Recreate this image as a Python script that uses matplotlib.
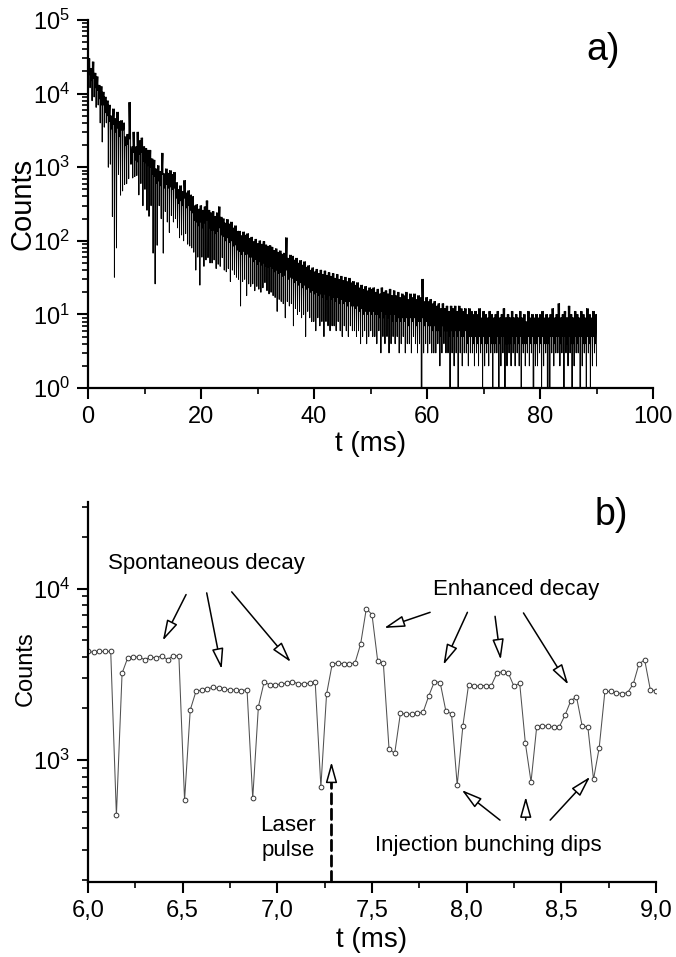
import numpy as np
import matplotlib
matplotlib.use("Agg")
import matplotlib.pyplot as plt
from matplotlib.ticker import LogLocator, MultipleLocator, FuncFormatter, NullFormatter

plt.rcParams['font.family'] = ['Liberation Sans', 'DejaVu Sans']
plt.rcParams['mathtext.default'] = 'regular'

# ---------------- Panel a: full decay, per 0.36 ms bunch period:
# plateau level (band top), lowest plateau sample (band bottom), dip value
a_first_t = 0.0        # ms, first sample
a_first_count = 6000   # first sample value
a_period = 0.36        # ms
a_plateau_on = 0.06    # ms, sample time of plateau start inside a period
a_plateau_mid = 0.18   # ms, sample time of lowest plateau sample
a_plateau_off = 0.30   # ms, sample time of plateau end inside a period
a_plateau = [
    30000, 22000, 27000, 19000, 17000, 13000, 12500, 10500, 9000, 8000,
    7000, 5000, 6200, 4600, 5600, 4200, 4300, 4000, 2600, 2800,
    7600, 1900, 3000, 1900, 3000, 2300, 2500, 1900, 1800, 1700,
    1700, 1300, 1250, 950, 1050, 880, 1550, 820, 950, 830,
    900, 800, 850, 620, 500, 560, 470, 660, 450, 480,
    420, 400, 300, 310, 270, 300, 260, 290, 350, 260,
    240, 250, 215, 240, 290, 210, 200, 175, 195, 170,
    180, 150, 160, 135, 135, 118, 132, 120, 125, 108,
    112, 98, 105, 92, 100, 90, 98, 88, 84, 86,
    82, 74, 78, 70, 73, 66, 68, 110, 58, 64,
    62, 55, 58, 50, 54, 47, 52, 44, 46, 40,
    43, 38, 41, 36, 40, 35, 39, 34, 37, 33,
    36, 31, 35, 30, 33, 29, 32, 28, 31, 27,
    28, 25, 27, 23, 25, 22, 24, 21, 23, 22,
    23, 20, 22, 19, 23, 20, 21, 19, 22, 18,
    21, 18, 20, 17, 19, 18, 20, 16, 19, 17,
    19, 16, 18, 17, 30, 15, 17, 15, 16, 14,
    15, 13, 14, 12, 14, 12, 13, 11, 13, 12,
    13, 11, 13, 12, 11, 12, 10, 12, 11, 10,
    11, 10, 12, 9, 11, 10, 9, 11, 10, 9,
    10, 11, 9, 10, 12, 9, 10, 9, 11, 9,
    10, 9, 11, 9, 10, 8, 11, 9, 10, 9,
    10, 9, 10, 11, 9, 10, 9, 10, 12, 9,
    10, 14, 9, 10, 11, 9, 13, 10, 9, 11,
    10, 9, 11, 10, 9, 12, 10, 9, 11, 10,
]
a_band_low = [
    18000, 15000, 16000, 12000, 11000, 8500, 7000, 7000, 5500, 5000,
    4200, 3300, 3800, 3000, 3400, 2600, 3200, 3200, 1960, 2050,
    2420, 1100, 1580, 1250, 1180, 1500, 1600, 1200, 1150, 1050,
    1000, 800, 750, 600, 650, 560, 800, 520, 580, 520,
    540, 500, 520, 380, 320, 350, 300, 380, 280, 300,
    260, 240, 190, 180, 160, 180, 150, 175, 190, 150,
    140, 140, 125, 135, 150, 120, 115, 100, 110, 95,
    100, 85, 88, 75, 72, 65, 72, 65, 66, 60,
    60, 52, 56, 48, 52, 47, 50, 45, 44, 45,
    42, 38, 40, 36, 37, 33, 34, 40, 30, 32,
    31, 27, 29, 25, 27, 23, 25, 22, 23, 20,
    21, 19, 20, 18, 19, 17, 19, 16, 18, 16,
    17, 15, 17, 14, 16, 14, 15, 13, 15, 13,
    13, 12, 13, 11, 12, 10, 11, 10, 11, 10,
    11, 10, 10, 9, 11, 9, 10, 9, 10, 8,
    10, 8, 9, 8, 9, 8, 9, 7, 9, 8,
    9, 7, 8, 8, 9, 7, 8, 7, 7, 6,
    7, 6, 6, 5, 7, 6, 6, 5, 6, 5,
    6, 5, 6, 5, 5, 6, 4, 5, 5, 4,
    5, 4, 5, 4, 5, 4, 4, 5, 4, 4,
    4, 5, 4, 5, 5, 4, 4, 4, 5, 4,
    5, 4, 5, 4, 4, 4, 5, 4, 5, 4,
    4, 5, 4, 5, 4, 4, 4, 5, 5, 4,
    5, 5, 4, 5, 5, 4, 5, 4, 4, 5,
    4, 5, 5, 4, 4, 5, 4, 5, 5, 4,
]
a_dip = [
    12000, 8000, 9000, 6500, 7000, 4000, 2200, 3500, 4000, 1000,
    1100, 214, 32, 80, 800, 417, 476, 583, 597, 698,
    1100, 714, 746, 771, 420, 600, 300, 500, 260, 215,
    300, 68, 26, 87, 300, 200, 68, 250, 180, 130,
    220, 180, 200, 150, 110, 120, 100, 125, 90, 85,
    80, 70, 40, 60, 25, 60, 45, 55, 59, 50,
    50, 55, 42, 48, 45, 59, 40, 38, 42, 28,
    40, 35, 32, 30, 13, 28, 30, 18, 26, 24,
    26, 21, 24, 22, 20, 23, 27, 21, 19, 20,
    18, 17, 11, 16, 15, 14, 9, 15, 13, 14,
    7, 12, 10, 11, 9, 10, 5, 11, 9, 8,
    8, 6, 9, 7, 8, 5, 8, 7, 6, 7,
    7, 6, 8, 6, 5, 7, 6, 5, 7, 6,
    6, 5, 6, 4, 5, 6, 4, 5, 6, 5,
    5, 4, 6, 3, 5, 4, 5, 3, 4, 5,
    4, 5, 3, 4, 5, 3, 4, 4, 3, 5,
    4, 3, 4, 0, 3, 4, 3, 4, 3, 3,
    3, 4, 2, 3, 4, 3, 3, 0, 3, 2,
    3, 0, 3, 2, 3, 3, 2, 3, 3, 2,
    3, 2, 3, 1, 2, 3, 2, 3, 1, 3,
    3, 0, 2, 3, 1, 2, 3, 2, 3, 2,
    3, 2, 1, 3, 2, 3, 2, 3, 0, 2,
    2, 3, 1, 2, 3, 0, 0, 3, 2, 3,
    3, 2, 3, 1, 3, 2, 3, 1, 2, 3,
    3, 0, 2, 3, 1, 3, 1, 2, 3, 2,
]

# ---------------- Panel b: zoom 6-9 ms, sampled every 0.03 ms
b_t0 = 6.0
b_dt = 0.03
b_counts = [
    4300, 4250, 4300, 4300, 4300, 476, 3210, 3950, 4000, 3980,
    3850, 3980, 3950, 4050, 3850, 4050, 4050, 583, 1960, 2510,
    2560, 2600, 2650, 2620, 2580, 2570, 2560, 2540, 2570, 597,
    2050, 2845, 2750, 2750, 2775, 2810, 2870, 2780, 2780, 2810,
    2845, 698, 2420, 3640, 3680, 3640, 3640, 3680, 4750, 7640,
    7050, 3790, 3660, 1160, 1094, 1875, 1850, 1850, 1875, 1900,
    2370, 2870, 2830, 1935, 1860, 714, 1580, 2750, 2690, 2710,
    2720, 2720, 3210, 3280, 3210, 2690, 2810, 1254, 746, 1566,
    1580, 1580, 1550, 1566, 1834, 2215, 2340, 1580, 1560, 771,
    1180, 2510, 2510, 2470, 2440, 2470, 2780, 3630, 3845, 2570,
    2530,
]

# annotation anchors (t in ms, counts)
spont_text = (6.623, 13090)
spont_tails = [(6.518, 9230), (6.627, 9440), (6.759, 9570)]
spont_tips = [(6.395, 4966), (6.706, 3390), (7.071, 3727)]
enh_text = (8.261, 9220)
enh_tails = [(7.807, 7270), (8.004, 7270), (8.150, 6890), (8.300, 7210)]
enh_tips = [(7.564, 5890), (7.877, 3590), (8.180, 3844), (8.537, 2750)]
inj_text = (8.113, 294)
inj_tails = [(8.176, 446), (8.312, 446), (8.441, 446)]
inj_tips = [(7.974, 668), (8.312, 610), (8.652, 798)]
laser_text = (7.058, 275)
laser_t = 7.286
laser_head_base = 797
laser_tip = 973

# ---------------- figure
fig = plt.figure(figsize=(6.76, 9.57), dpi=100)
axa = fig.add_axes([88 / 676, 1 - 388 / 957, 565 / 676, 368 / 957])
axb = fig.add_axes([88 / 676, 1 - 881.7 / 957, 568 / 676, 379.7 / 957])

# panel a trace
P = np.asarray(a_plateau, dtype=float)
L = np.asarray(a_band_low, dtype=float)
D = np.asarray(a_dip, dtype=float)
k = np.arange(len(P))
ta = np.column_stack([k * a_period + a_plateau_on,
                      k * a_period + a_plateau_mid,
                      k * a_period + a_plateau_off,
                      (k + 1) * a_period]).ravel()
ya = np.column_stack([P, L, P, D]).ravel()
ta = np.concatenate([[a_first_t], ta])
ya = np.concatenate([[a_first_count], ya])
axa.plot(ta, ya, color='black', lw=0.7)
axa.set_yscale('log', nonpositive='clip')
axa.set_xlim(0, 100)
axa.set_ylim(1, 1e5)
axa.xaxis.set_major_locator(MultipleLocator(20))
axa.xaxis.set_minor_locator(MultipleLocator(10))
axa.yaxis.set_major_locator(LogLocator(base=10, numticks=10))
axa.yaxis.set_minor_locator(LogLocator(base=10, subs=np.arange(2, 10), numticks=20))
axa.yaxis.set_minor_formatter(NullFormatter())
axa.set_xlabel('t (ms)', fontsize=20)
axa.set_ylabel('Counts', fontsize=21)
axa.xaxis.set_label_coords(0.5, -0.118)
axa.yaxis.set_label_coords(-0.092, 0.5)
axa.text(0.912, 0.918, 'a)', transform=axa.transAxes, fontsize=27,
         ha='center', va='center')

# panel b
tb = b_t0 + b_dt * np.arange(len(b_counts))
axb.plot(tb, b_counts, color='#505050', lw=0.75, marker='o', ms=3.4,
         mfc='white', mec='#333333', mew=0.7)
axb.set_yscale('log')
axb.set_xlim(6.0, 9.0)
axb.set_ylim(195, 32000)
axb.xaxis.set_major_locator(MultipleLocator(0.5))
axb.xaxis.set_minor_locator(MultipleLocator(0.25))
axb.xaxis.set_major_formatter(FuncFormatter(lambda v, p: f"{v:.1f}".replace('.', ',')))
axb.yaxis.set_major_locator(LogLocator(base=10, numticks=10))
axb.yaxis.set_minor_locator(LogLocator(base=10, subs=np.arange(2, 10), numticks=20))
axb.yaxis.set_minor_formatter(NullFormatter())
axb.set_xlabel('t (ms)', fontsize=20)
axb.set_ylabel('Counts', fontsize=17)
axb.xaxis.set_label_coords(0.5, -0.118)
axb.yaxis.set_label_coords(-0.09, 0.56)
axb.text(0.922, 0.965, 'b)', transform=axb.transAxes, fontsize=27,
         ha='center', va='center')

for ax in (axa, axb):
    ax.spines['top'].set_visible(False)
    ax.spines['right'].set_visible(False)
    for s in ('left', 'bottom'):
        ax.spines[s].set_linewidth(1.6)
    ax.tick_params(which='major', direction='out', length=8, width=1.5,
                   labelsize=17, pad=5)
    ax.tick_params(which='minor', direction='out', length=4.5, width=1.2)

# annotations panel b
head = dict(arrowstyle='-|>,head_length=0.9,head_width=0.25', fc='white',
            ec='black', lw=1.1, shrinkA=0, shrinkB=0, mutation_scale=14)
axb.text(*spont_text, 'Spontaneous decay', fontsize=16, ha='center', va='baseline')
for tl, tp in zip(spont_tails, spont_tips):
    axb.annotate('', xy=tp, xytext=tl, arrowprops=head)
axb.text(*enh_text, 'Enhanced decay', fontsize=16, ha='center', va='baseline')
for tl, tp in zip(enh_tails, enh_tips):
    axb.annotate('', xy=tp, xytext=tl, arrowprops=head)
axb.text(*inj_text, 'Injection bunching dips', fontsize=16, ha='center', va='baseline')
for tl, tp in zip(inj_tails, inj_tips):
    axb.annotate('', xy=tp, xytext=tl, arrowprops=head)
axb.text(*laser_text, 'Laser\npulse', fontsize=16, ha='center', va='baseline',
         multialignment='center', linespacing=1.25)
y0 = axb.get_ylim()[0]
axb.annotate('', xy=(laser_t, laser_head_base), xytext=(laser_t, y0),
             arrowprops=dict(arrowstyle='-', lw=2.0, ls=(0, (3.7, 1.9)),
                             color='black', shrinkA=0, shrinkB=0))
axb.annotate('', xy=(laser_t, laser_tip), xytext=(laser_t, laser_head_base),
             arrowprops=dict(arrowstyle='-|>,head_length=0.9,head_width=0.25',
                             fc='white', ec='black', lw=1.1, shrinkA=0,
                             shrinkB=0, mutation_scale=14))

fig.savefig('out.png', dpi=100)
